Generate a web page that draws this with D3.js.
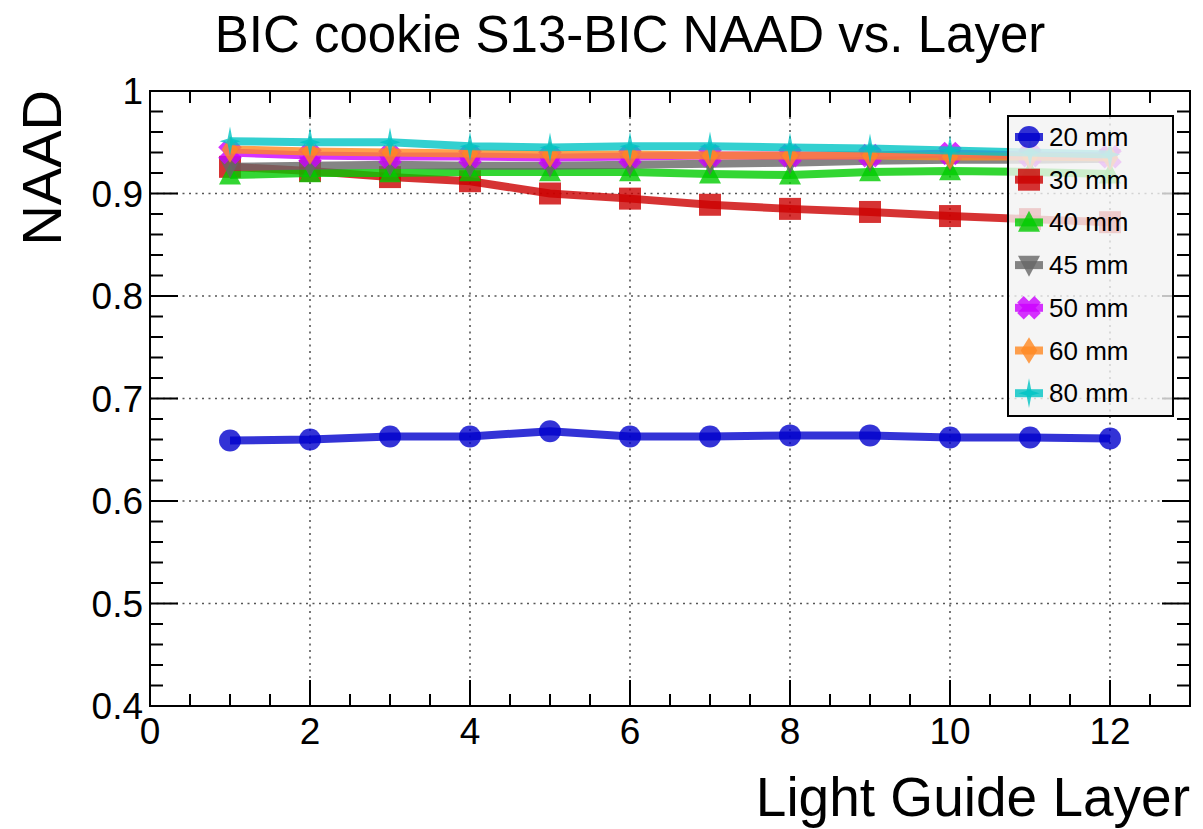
<!DOCTYPE html>
<html>
<head>
<meta charset="utf-8">
<script src="https://cdn.jsdelivr.net/npm/d3@7"></script>
<style>
  body { margin: 0; background: #fff; }
  text { font-family: "Liberation Sans", Arial, Helvetica, sans-serif; fill: #000; }
</style>
</head>
<body>
<div id="chart"></div>
<script>
// layers on the x axis
const layers = [1, 2, 3, 4, 5, 6, 7, 8, 9, 10, 11, 12];

// NAAD per layer, one array per cookie thickness
const naad20 = [0.659, 0.660, 0.663, 0.663, 0.668, 0.663, 0.663, 0.664, 0.664, 0.662, 0.662, 0.661];
const naad30 = [0.926, 0.922, 0.916, 0.912, 0.900, 0.895, 0.889, 0.885, 0.882, 0.878, 0.875, 0.872];
const naad40 = [0.918, 0.920, 0.920, 0.921, 0.921, 0.921, 0.919, 0.918, 0.921, 0.922, 0.921, 0.919];
const naad45 = [0.926, 0.927, 0.928, 0.927, 0.927, 0.928, 0.929, 0.930, 0.932, 0.933, 0.933, 0.934];
const naad50 = [0.940, 0.937, 0.936, 0.936, 0.935, 0.936, 0.937, 0.937, 0.937, 0.939, 0.937, 0.936];
const naad60 = [0.943, 0.941, 0.940, 0.939, 0.938, 0.938, 0.937, 0.937, 0.937, 0.936, 0.936, 0.935];
const naad80 = [0.951, 0.950, 0.950, 0.946, 0.945, 0.946, 0.946, 0.945, 0.944, 0.942, 0.940, 0.938];

const seriesNames = ['20 mm', '30 mm', '40 mm', '45 mm', '50 mm', '60 mm', '80 mm'];
const seriesValues = [naad20, naad30, naad40, naad45, naad50, naad60, naad80];
const seriesColors = ['#0000cc', '#cc0000', '#00cc00', '#666666', '#cc00ff', '#ff8822', '#00c4c4'];
const seriesShapes = ['circle', 'square', 'triUp', 'triDown', 'xcross', 'diamond', 'star4'];

const xTicks = [0, 2, 4, 6, 8, 10, 12];
const yTicks = [0.4, 0.5, 0.6, 0.7, 0.8, 0.9, 1];

const width = 1203;
const height = 829;
const frame = { left: 150, right: 1190, top: 91, bottom: 706 };

const svg = d3.select('#chart').append('svg')
  .attr('width', width)
  .attr('height', height);

const x = d3.scaleLinear().domain([0, 13]).range([frame.left, frame.right]);
const y = d3.scaleLinear().domain([0.4, 1]).range([frame.bottom, frame.top]);

// marker outlines, r is the half size
const markerPath = (shape, r) => {
  const p = d3.path();
  const poly = (pts) => {
    pts.forEach(([px, py], i) => (i ? p.lineTo(px, py) : p.moveTo(px, py)));
    p.closePath();
  };
  if (shape === 'circle') {
    p.arc(0, 0, r, 0, 2 * Math.PI);
  } else if (shape === 'square') {
    p.rect(-r, -r, 2 * r, 2 * r);
  } else if (shape === 'triUp') {
    poly([[0, -r * 1.05], [r, r * 0.85], [-r, r * 0.85]]);
  } else if (shape === 'triDown') {
    poly([[0, r * 1.05], [r, -r * 0.85], [-r, -r * 0.85]]);
  } else if (shape === 'xcross') {
    // fat plus turned by 45 degrees
    const a = r * 0.42;
    const l = r * 1.1;
    const plus = [[a, -l], [a, -a], [l, -a], [l, a], [a, a], [a, l],
      [-a, l], [-a, a], [-l, a], [-l, -a], [-a, -a], [-a, -l]];
    const c = Math.SQRT1_2;
    poly(plus.map(([px, py]) => [c * (px - py), c * (px + py)]));
  } else if (shape === 'diamond') {
    poly([[0, -r * 1.2], [r * 0.75, 0], [0, r * 1.2], [-r * 0.75, 0]]);
  } else if (shape === 'star4') {
    const i = r * 0.22;
    poly([[0, -r * 1.35], [i, -i], [r * 0.95, 0], [i, i], [0, r * 1.35], [-i, i], [-r * 0.95, 0], [-i, -i]]);
  }
  return p.toString();
};

// dotted grid at major ticks
const grid = svg.append('g').attr('class', 'grid');
grid.selectAll('line.gx')
  .data(xTicks.filter((d) => d > 0))
  .enter()
  .append('line')
  .attr('x1', (d) => x(d))
  .attr('x2', (d) => x(d))
  .attr('y1', frame.top)
  .attr('y2', frame.bottom)
  .attr('stroke', '#555')
  .attr('stroke-width', 1.6)
  .attr('stroke-dasharray', '2,4.5');
grid.selectAll('line.gy')
  .data(yTicks.filter((d) => d > 0.4 && d < 1))
  .enter()
  .append('line')
  .attr('x1', frame.left)
  .attr('x2', frame.right)
  .attr('y1', (d) => y(d))
  .attr('y2', (d) => y(d))
  .attr('stroke', '#555')
  .attr('stroke-width', 1.6)
  .attr('stroke-dasharray', '2,4.5');

// series
const lineGen = d3.line()
  .x((d) => x(d.layer))
  .y((d) => y(d.value));

const series = seriesNames.map((name, i) => ({
  name,
  color: seriesColors[i],
  shape: seriesShapes[i],
  points: layers.map((l, j) => ({ layer: l, value: seriesValues[i][j] })),
}));

const plot = svg.append('g').attr('class', 'series');
series.forEach((s) => {
  const g = plot.append('g');
  g.append('path')
    .attr('d', lineGen(s.points))
    .attr('fill', 'none')
    .attr('stroke', s.color)
    .attr('stroke-width', 8)
    .attr('stroke-linejoin', 'round')
    .attr('stroke-opacity', 0.8);
  g.selectAll('path.marker')
    .data(s.points)
    .enter()
    .append('path')
    .attr('class', 'marker')
    .attr('d', markerPath(s.shape, 11))
    .attr('transform', (d) => `translate(${x(d.layer)},${y(d.value)})`)
    .attr('fill', s.color)
    .attr('fill-opacity', 0.8);
});

// frame and axes with inward ticks
const axes = svg.append('g').attr('class', 'axes');
axes.append('rect')
  .attr('x', frame.left)
  .attr('y', frame.top)
  .attr('width', frame.right - frame.left)
  .attr('height', frame.bottom - frame.top)
  .attr('fill', 'none')
  .attr('stroke', '#000')
  .attr('stroke-width', 2);

const xMinor = d3.range(0, 13.01, 0.5);
const yMinor = d3.range(0.4, 1.0001, 0.02);
const isMajorX = (v) => Math.abs(v / 2 - Math.round(v / 2)) < 1e-6;
const isMajorY = (v) => Math.abs(v * 10 - Math.round(v * 10)) < 1e-6;

xMinor.forEach((v) => {
  const len = isMajorX(v) ? 26 : 12;
  [[frame.bottom, -len], [frame.top, len]].forEach(([y0, dl]) => {
    axes.append('line')
      .attr('x1', x(v)).attr('x2', x(v))
      .attr('y1', y0).attr('y2', y0 + dl)
      .attr('stroke', '#000').attr('stroke-width', 2);
  });
});
yMinor.forEach((v) => {
  const len = isMajorY(v) ? 28 : 13;
  [[frame.left, len], [frame.right, -len]].forEach(([x0, dl]) => {
    axes.append('line')
      .attr('x1', x0).attr('x2', x0 + dl)
      .attr('y1', y(v)).attr('y2', y(v))
      .attr('stroke', '#000').attr('stroke-width', 2);
  });
});

axes.selectAll('text.xl')
  .data(xTicks)
  .enter()
  .append('text')
  .attr('x', (d) => x(d))
  .attr('y', 744)
  .attr('text-anchor', 'middle')
  .style('font-size', '37px')
  .text((d) => d);

axes.selectAll('text.yl')
  .data(yTicks)
  .enter()
  .append('text')
  .attr('x', 143)
  .attr('y', (d) => y(d) + 13)
  .attr('text-anchor', 'end')
  .style('font-size', '37px')
  .text((d) => d3.format('~g')(d));

// titles
svg.append('text')
  .attr('x', 630)
  .attr('y', 52)
  .attr('text-anchor', 'middle')
  .style('font-size', '51px')
  .text('BIC cookie S13-BIC NAAD vs. Layer');

svg.append('text')
  .attr('x', 1190)
  .attr('y', 816)
  .attr('text-anchor', 'end')
  .style('font-size', '55px')
  .text('Light Guide Layer');

svg.append('text')
  .attr('transform', 'translate(61,90) rotate(-90)')
  .attr('text-anchor', 'end')
  .style('font-size', '56px')
  .text('NAAD');

// legend
const legend = svg.append('g').attr('class', 'legend');
legend.append('rect')
  .attr('x', 1008)
  .attr('y', 116)
  .attr('width', 165)
  .attr('height', 300)
  .attr('fill', '#f2f2f2')
  .attr('fill-opacity', 0.8)
  .attr('stroke', '#000')
  .attr('stroke-width', 2);

const item = legend.selectAll('g.item')
  .data(series)
  .enter()
  .append('g')
  .attr('class', 'item')
  .attr('transform', (d, i) => `translate(1029,${137 + i * 42.7})`);
item.append('line')
  .attr('x1', -14).attr('x2', 14)
  .attr('stroke', (d) => d.color)
  .attr('stroke-width', 8)
  .attr('stroke-opacity', 0.8);
item.append('path')
  .attr('d', (d) => markerPath(d.shape, 11))
  .attr('fill', (d) => d.color)
  .attr('fill-opacity', 0.8);
item.append('text')
  .attr('x', 20)
  .attr('y', 9)
  .style('font-size', '26px')
  .text((d) => d.name);
</script>
</body>
</html>
